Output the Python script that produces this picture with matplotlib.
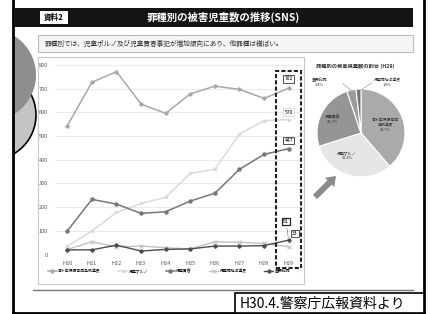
import matplotlib
matplotlib.use('Agg')
import matplotlib.pyplot as plt
from matplotlib.patches import Rectangle, Circle, FancyArrow

plt.rcParams['font.family'] = ['Noto Sans CJK JP', 'DejaVu Sans']

# data
years = ['H20', 'H21', 'H22', 'H23', 'H24', 'H25', 'H26', 'H27', 'H28', 'H29']
seishonen = [544, 727, 772, 635, 596, 678, 711, 697, 659, 702]
porno = [35, 100, 178, 216, 242, 343, 360, 509, 565, 570]
kaishun = [100, 233, 213, 174, 181, 226, 259, 360, 423, 447]
fukushi = [22, 54, 33, 36, 29, 24, 54, 52, 47, 33]
juyo = [20, 20, 40, 15, 22, 24, 36, 36, 38, 61]
names = ['青少年保護育成条例違反', '児童ポルノ', '児童買春', '児童福祉法違反', '重要犯罪']

pie_labels = ['青少年保護育成\n条例違反', '児童ポルノ', '児童買春', '重要犯罪', '児童福祉法違反']
pie_share = [38.7, 31.4, 24.7, 3.4, 1.8]

W, H = 431, 314
fig = plt.figure(figsize=(W / 100, H / 100), dpi=100)


def frac(x0, y0, x1, y1):
    return [x0 / W, 1 - y1 / H, (x1 - x0) / W, (y1 - y0) / H]


# slide background drawn in pixel coords
bg = fig.add_axes([0, 0, 1, 1])
bg.set_xlim(0, W)
bg.set_ylim(H, 0)
bg.axis('off')

bg.add_patch(Circle((-9, 115), 45, fc='#c4c4c4', ec='black', lw=1.2))
bg.add_patch(Circle((-10, 75), 46, fc='#8e8e8e', ec='none'))
bg.add_patch(Rectangle((0, 0), 13, H, fc='white', ec='none', zorder=3))
bg.plot([13, 13], [0, H], color='black', lw=2, zorder=4)
bg.plot([424, 424], [0, H], color='black', lw=2, zorder=4)
bg.plot([13, 424], [313, 313], color='black', lw=2, zorder=4)

# header
bg.add_patch(Rectangle((15, 8), 398, 19, fc='#141414', ec='none'))
bg.add_patch(Rectangle((40, 11), 28, 13, fc='white', ec='none'))
bg.text(54, 17.5, '資料2', fontsize=5.5, fontweight='bold', ha='center', va='center')
bg.text(223, 17.5, '罪種別の被害児童数の推移(SNS)', fontsize=7.5, fontweight='bold',
        color='white', ha='center', va='center')

bg.add_patch(Rectangle((38, 35), 375, 17, fc='#f5f5f5', ec='#bdbdbd', lw=0.8))
bg.text(45, 43.5, '罪種別では、児童ポルノ及び児童買春事犯が増加傾向にあり、他罪種は横ばい。',
        fontsize=4.8, color='#333333', va='center')

# chart panel
bg.add_patch(Rectangle((38, 57), 266, 227, fc='white', ec='#c8c8c8', lw=0.8))
bg.plot([33, 413], [290, 290], color='#777777', lw=1)
bg.add_patch(Rectangle((235, 293), 189, 20, fc='white', ec='black', lw=1.2, zorder=5))
bg.text(240, 303.5, 'H30.4.警察庁広報資料より', fontsize=10, va='center', zorder=6)

bg.text(316, 66, '罪種別の被害児童数の割合 (H29)', fontsize=3.8, fontweight='bold',
        color='#333333', va='center')
bg.add_patch(FancyArrow(315, 197, 21, -21, width=6, head_width=13, head_length=9,
                        length_includes_head=True, fc='#8a8a8a', ec='none'))

# line chart
ax = fig.add_axes(frac(55, 65, 301, 254.6))
ax.patch.set_alpha(0)
x = range(len(years))
ax.plot(x, seishonen, color='#a8a8a8', lw=1.1, marker='D', ms=1.8, label=names[0])
ax.plot(x, porno, color='#dadada', lw=1.1, marker='o', ms=1.5, label=names[1])
ax.plot(x, kaishun, color='#777777', lw=1.1, marker='o', ms=2.2, label=names[2])
ax.plot(x, fukushi, color='#c2c2c2', lw=1.0, marker='x', ms=2.2, mew=0.7, label=names[3])
ax.plot(x, juyo, color='#4d4d4d', lw=1.0, marker='D', ms=1.8, label=names[4])
ax.set_xlim(-0.5, 9.5)
ax.set_ylim(0, 800)
ax.set_xticks(list(x))
ax.set_xticklabels(years)
ax.set_yticks(range(0, 801, 100))
ax.grid(axis='y', color='#e6e6e6', lw=0.6)
ax.set_axisbelow(True)
for s in ax.spines.values():
    s.set_visible(False)
ax.tick_params(axis='y', length=0, labelsize=4, colors='#555555', pad=5)
ax.tick_params(axis='x', length=0, labelsize=4, colors='#555555', pad=4.5)

box = dict(boxstyle='square,pad=0.25', fc='white', ec='#333333', lw=0.6)
ax.annotate(str(seishonen[9]), (9, seishonen[9]), xytext=(0, 6.8), textcoords='offset points',
            fontsize=3.6, ha='center', va='center', bbox=box)
ax.annotate(str(porno[9]), (9, porno[9]), xytext=(0, 5.4), textcoords='offset points',
            fontsize=3.6, ha='center', va='center',
            bbox=dict(boxstyle='square,pad=0.25', fc='white', ec='#d0d0d0', lw=0.5))
ax.annotate(str(kaishun[9]), (9, kaishun[9]), xytext=(0, 6), textcoords='offset points',
            fontsize=3.6, ha='center', va='center', bbox=box)
ax.annotate(str(juyo[9]), (9, juyo[9]), xytext=(-2, 13.5), textcoords='offset points',
            fontsize=3.6, ha='center', va='center',
            bbox=dict(boxstyle='square,pad=0.25', fc='white', ec='#222222', lw=0.9),
            arrowprops=dict(arrowstyle='-', color='#666666', lw=0.4))
ax.annotate(str(fukushi[9]), (9, fukushi[9]), xytext=(4.3, 9.6), textcoords='offset points',
            fontsize=3.6, ha='center', va='center', bbox=box,
            arrowprops=dict(arrowstyle='-', color='#999999', lw=0.4))
ax.add_patch(Rectangle((8.48, -56.5), 1.02, 831.5, fill=False, ec='#222222', lw=1.5,
                       ls=(0, (2, 1)), clip_on=False, zorder=5))

fig.legend(loc='center', bbox_to_anchor=(169 / W, 1 - 271 / H), ncol=5, fontsize=2.8,
           frameon=False, handlelength=2.3, handletextpad=0.4, columnspacing=4.5)

# pie chart
axp = fig.add_axes(frac(317, 89, 405, 177))
pie_colors = ['#aaaaaa', '#e6e6e6', '#959595', '#9c9c9c', '#727272']
axp.pie(pie_share, colors=pie_colors, startangle=90, counterclock=False,
        wedgeprops=dict(edgecolor='white', linewidth=0.8))
axp.set_xlim(-1, 1)
axp.set_ylim(-1, 1)
axp.set_aspect('equal')
lab_pos = [(0.55, 0.18), (-0.32, -0.52), (-0.64, 0.3), (-0.95, 1.14), (0.6, 1.14)]
for (lx, ly), lab, v in zip(lab_pos, pie_labels, pie_share):
    axp.text(lx, ly, f'{lab}\n{v}%', fontsize=2.8, ha='center', va='center',
             color='#333333', linespacing=1.3, clip_on=False)
axp.plot([-0.41, -0.2], [1.12, 0.95], color='#888888', lw=0.4, clip_on=False)
axp.plot([0.25, -0.05], [1.14, 0.95], color='#888888', lw=0.4, clip_on=False)

fig.savefig('out.png', dpi=100)
